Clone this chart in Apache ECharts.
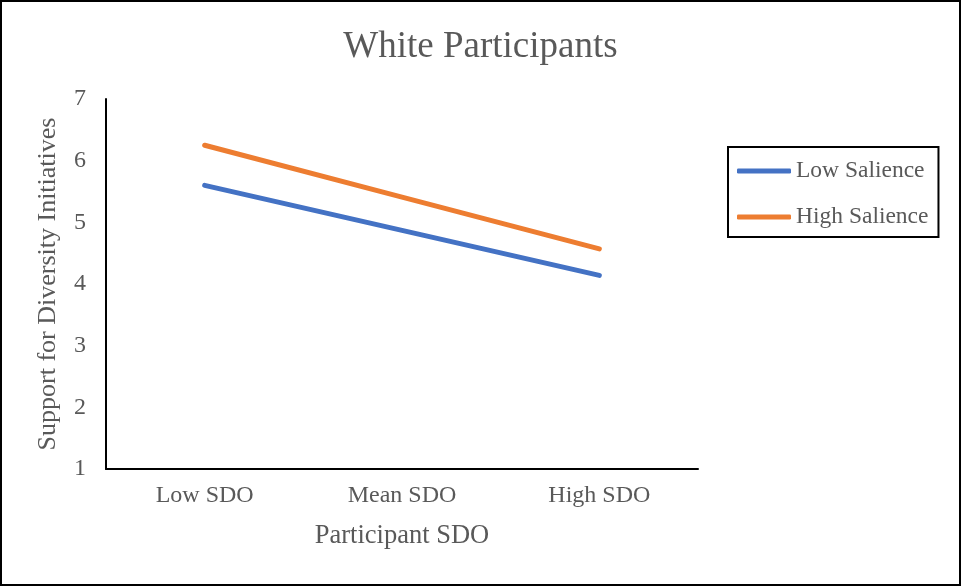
<!DOCTYPE html>
<html>
<head>
<meta charset="utf-8">
<script src="https://cdn.jsdelivr.net/npm/echarts@6/dist/echarts.min.js"></script>
<style>
  html, body { margin: 0; padding: 0; background: #fff; }
  #chart { width: 961px; height: 586px; box-sizing: border-box; border: 2px solid #000; }
</style>
</head>
<body>
<div id="chart"></div>
<script>
// SDO levels on the x axis
const categories = ['Low SDO', 'Mean SDO', 'High SDO'];
// Predicted support for diversity initiatives
const lowSalience = [5.60, 4.87, 4.14];
const highSalience = [6.25, 5.41, 4.57];
const yTicks = { min: 1, max: 7, interval: 1 };

const serif = '"Liberation Serif", "DejaVu Serif", serif';
const grey = '#595959';

const chart = echarts.init(document.getElementById('chart'), null, { renderer: 'canvas' });
chart.setOption({
  animation: false,
  backgroundColor: '#fff',
  title: {
    text: 'White Participants',
    left: 'center',
    top: 22,
    textStyle: { fontFamily: serif, fontSize: 37, fontWeight: 'normal', color: grey }
  },
  legend: {
    orient: 'vertical',
    left: 726,
    top: 145,
    padding: [11, 10, 7, 9],
    itemGap: 20,
    itemWidth: 54,
    itemHeight: 5,
    icon: 'roundRect',
    borderColor: '#000',
    borderWidth: 2,
    textStyle: { fontFamily: serif, fontSize: 23.5, color: grey, lineHeight: 26 },
    data: ['Low Salience', 'High Salience']
  },
  grid: { left: 104, right: 261, top: 97, bottom: 115 },
  xAxis: {
    type: 'category',
    data: categories,
    boundaryGap: true,
    axisLine: { lineStyle: { color: '#000', width: 2 } },
    axisTick: { show: false },
    axisLabel: { fontFamily: serif, fontSize: 24, color: grey, margin: 15 },
    name: 'Participant SDO',
    nameLocation: 'middle',
    nameGap: 54,
    nameTextStyle: { fontFamily: serif, fontSize: 26.5, color: grey }
  },
  yAxis: {
    type: 'value',
    min: yTicks.min,
    max: yTicks.max,
    interval: yTicks.interval,
    axisLine: { show: true, lineStyle: { color: '#000', width: 2 } },
    axisTick: { show: false },
    splitLine: { show: false },
    axisLabel: { fontFamily: serif, fontSize: 24, color: grey, margin: 20 },
    name: 'Support for Diversity Initiatives',
    nameLocation: 'middle',
    nameGap: 45,
    nameTextStyle: { fontFamily: serif, fontSize: 26, color: grey }
  },
  series: [
    {
      name: 'Low Salience',
      type: 'line',
      data: lowSalience,
      symbol: 'none',
      color: '#4472C4',
      lineStyle: { width: 5, cap: 'round', color: '#4472C4' }
    },
    {
      name: 'High Salience',
      type: 'line',
      data: highSalience,
      symbol: 'none',
      color: '#ED7D31',
      lineStyle: { width: 5, cap: 'round', color: '#ED7D31' }
    }
  ]
});
</script>
</body>
</html>
